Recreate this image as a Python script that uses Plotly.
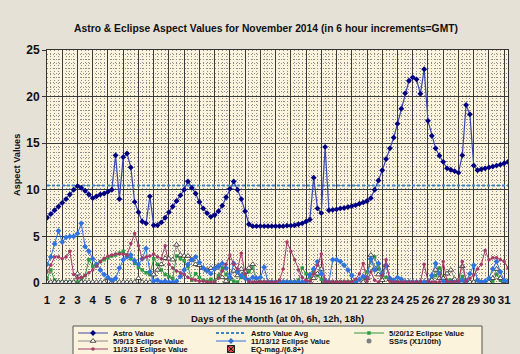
import plotly.graph_objects as go

# ---------------- data (6-hour increments: 0h, 6h, 12h, 18h) ----------------
days = list(range(1, 32))
hours = [0, 6, 12, 18]

astro_value = [
    7.0, 7.4, 7.8, 8.2,      # 1
    8.6, 9.0, 9.5, 10.0,     # 2
    10.4, 10.2, 9.9, 9.5,    # 3
    9.1, 9.3, 9.5, 9.6,      # 4
    9.8, 10.0, 13.7, 9.0,    # 5
    13.5, 13.9, 12.4, 8.7,   # 6
    7.6, 6.6, 6.4, 9.3,      # 7
    6.2, 6.2, 6.5, 7.0,      # 8
    7.6, 8.2, 8.8, 9.4,      # 9
    10.0, 10.9, 10.2, 9.6,   # 10
    8.7, 8.0, 7.5, 7.1,      # 11
    7.3, 7.7, 8.3, 9.2,      # 12
    10.1, 10.9, 10.0, 9.0,   # 13
    7.7, 6.3, 6.1, 6.1,      # 14
    6.1, 6.1, 6.1, 6.1,      # 15
    6.1, 6.1, 6.1, 6.15,     # 16
    6.15, 6.2, 6.3, 6.4,     # 17
    6.6, 6.8, 11.3, 8.0,     # 18
    7.5, 14.6, 7.8, 7.85,    # 19
    7.9, 8.0, 8.05, 8.15,    # 20
    8.25, 8.35, 8.5, 8.65,   # 21
    8.8, 9.1, 10.0, 11.0,    # 22
    12.1, 13.3, 14.45, 15.6, # 23
    17.1, 18.7, 20.35, 21.7, # 24
    22.07, 21.85, 20.3, 22.93,  # 25
    17.4, 15.8, 14.45, 13.66,   # 26
    13.0, 12.3, 12.15, 12.0,    # 27
    11.84, 13.7, 19.1, 18.1,    # 28
    12.6, 12.1, 12.2, 12.3,     # 29
    12.4, 12.5, 12.6, 12.7,     # 30
    12.85, 13.0,                # 31
]

astro_value_avg = 10.45

eclipse_5_20_12 = [
    0.5, 1.4, 0.3, 0.1,
    0.1, 0.1, 0.1, 0.1,
    0.1, 0.3, 0.8, 2.5,
    1.8, 2.0, 2.3, 2.5,
    2.7, 2.9, 3.0, 3.2,
    3.4, 3.0, 2.6, 2.1,
    1.7, 1.4, 1.1, 0.9,
    2.6, 2.0, 1.4, 0.9,
    0.7, 0.5, 2.9, 2.6,
    2.4, 1.75, 0.3, 1.0,
    0.6, 0.3, 0.2, 0.4,
    0.2, 0.8, 1.6, 0.9,
    0.4, 0.2, 0.1, 0.6,
    0.9, 1.2, 1.6, 0.3,
    0.1, 0.1, 0.1, 0.1,
    0.1, 0.1, 0.1, 0.1,
    0.1, 0.1, 0.3, 1.6,
    1.0, 0.6, 1.3, 0.8,
    0.4, 0.2, 0.1, 0.1,
    0.1, 0.1, 0.1, 0.1,
    0.1, 0.1, 0.1, 0.6,
    1.2, 2.3, 2.8, 1.5,
    0.9, 0.6, 0.4, 0.2,
    0.1, 0.1, 0.1, 0.1,
    0.1, 0.1, 0.1, 0.1,
    0.1, 0.4, 0.8, 1.6,
    0.5, 0.3, 0.3, 0.1,
    0.2, 0.7, 0.2, 0.1,
    0.1, 0.1, 0.1, 0.1,
    0.1, 0.2, 0.9, 0.3,
    0.1, 0.1,
]

eclipse_5_9_13 = [
    0.1, 0.1, 0.1, 0.1,
    0.1, 0.1, 0.1, 0.1,
    1.0, 0.1, 0.1, 0.1,
    0.1, 0.1, 0.1, 0.1,
    0.5, 0.1, 0.1, 0.1,
    0.1, 0.1, 0.1, 0.1,
    0.5, 0.1, 0.1, 0.1,
    0.9, 1.4, 2.0, 2.65,
    2.6, 2.5, 4.1, 3.0,
    2.9, 2.9, 2.5, 2.0,
    1.9, 1.6, 1.4, 1.6,
    1.6, 1.9, 0.6, 0.2,
    0.6, 1.3, 0.8, 1.5,
    1.2, 1.6, 2.0, 0.3,
    0.1, 0.1, 0.1, 0.1,
    0.1, 0.1, 0.1, 0.1,
    0.1, 0.1, 0.1, 0.1,
    0.1, 0.1, 0.5, 1.0,
    1.5, 0.2, 0.1, 0.1,
    0.1, 0.1, 0.1, 0.1,
    0.1, 0.1, 0.1, 0.1,
    0.5, 3.0, 1.6, 0.9,
    0.3, 1.9, 0.4, 0.1,
    0.1, 0.1, 0.1, 0.1,
    0.1, 0.1, 0.1, 0.1,
    0.1, 0.3, 1.4, 0.5,
    0.5, 1.0, 1.4, 0.4,
    0.3, 1.8, 0.2, 0.1,
    0.1, 0.1, 0.1, 0.1,
    0.1, 0.5, 1.5, 0.5,
    0.2, 0.1,
]

eclipse_11_13_12 = [
    2.0, 2.8, 4.2, 5.6,
    4.4, 4.9, 5.0, 5.0,
    5.3, 6.4, 3.9, 3.4,
    2.6, 2.0, 1.4, 0.9,
    0.6, 0.3, 0.5, 1.6,
    2.5, 2.8, 3.0, 2.4,
    2.0, 2.6, 3.7, 1.2,
    0.2, 0.3, 0.1, 0.2,
    0.1, 0.1, 0.2, 0.7,
    1.4, 2.0, 2.5, 2.8,
    2.2, 1.6, 1.3, 1.0,
    1.5, 1.8, 2.1, 1.6,
    0.6, 2.1, 1.2, 0.8,
    0.5, 0.3, 0.6, 0.5,
    0.6, 1.7, 0.1, 0.1,
    0.1, 0.1, 0.1, 0.1,
    0.1, 0.1, 0.1, 0.1,
    0.2, 0.9, 1.5, 2.3,
    1.0, 0.3, 0.1, 2.5,
    2.5, 2.3, 1.9, 1.4,
    0.8, 0.1, 0.4, 0.7,
    0.6, 2.6, 1.4, 2.1,
    1.0, 1.9, 0.5, 0.3,
    0.6, 0.4, 0.1, 0.1,
    0.1, 0.1, 0.1, 0.1,
    0.1, 0.8, 2.1, 1.0,
    0.2, 0.1, 0.1, 0.1,
    0.1, 0.3, 0.2, 1.0,
    1.9, 0.3, 0.1, 0.2,
    0.5, 1.5, 2.3, 1.2,
    0.3, 0.2,
]

eclipse_11_3_13 = [
    1.2, 1.9, 2.8, 2.8,
    2.6, 2.8, 3.4, 0.9,
    0.5, 0.6, 0.8, 1.1,
    1.4, 1.8, 2.3, 2.65,
    2.9, 3.0, 3.1, 3.1,
    3.1, 3.0, 4.25, 5.3,
    4.0, 2.6, 2.8, 2.9,
    3.1, 2.8, 2.6, 4.0,
    2.0, 1.6, 1.3, 1.1,
    0.9, 0.6, 0.4, 0.3,
    0.2, 0.2, 0.1, 0.1,
    0.1, 0.5, 1.3, 2.0,
    3.0, 2.0, 1.5, 3.2,
    1.0, 0.1, 0.1, 0.1,
    0.1, 0.1, 0.1, 0.1,
    0.1, 0.3, 1.5, 4.4,
    3.4, 2.5, 1.4, 0.6,
    0.3, 0.2, 1.0, 1.9,
    3.1, 0.2, 0.1, 0.1,
    0.1, 0.1, 0.1, 0.1,
    0.1, 0.4, 1.0, 2.1,
    0.2, 1.2, 0.3, 0.1,
    0.8, 2.5, 0.2, 0.1,
    0.1, 0.1, 0.1, 0.1,
    0.1, 0.1, 0.1, 2.0,
    0.2, 0.1, 0.1, 0.1,
    2.3, 0.2, 0.1, 0.1,
    0.2, 2.3, 0.2, 0.5,
    0.85, 1.5, 2.0, 3.5,
    2.5, 2.7, 2.7, 2.5,
    2.3, 1.6,
]

ss_numbers = []      # SS#s (X1/10th) - no visible points
eq_magnitude = []    # EQ-mag./(6.8+) - no visible points

x_ticks = days
x_ticktext = [str(d) for d in days]

# ---------------- x positions from day + hour ----------------
x_pos = [d + h / 24.0 for d in days for h in hours][:len(astro_value)]

TXT = "Liberation Sans, Arial, sans-serif"

fig = go.Figure()

fig.add_trace(go.Scatter(
    x=x_pos, y=eclipse_5_20_12, name="5/20/12 Eclipse Value", legend="legend", legendrank=3,
    mode="lines+markers", line=dict(color="#2E9A45", width=1),
    marker=dict(symbol="square", size=3.5, color="#2E9A45")))
fig.add_trace(go.Scatter(
    x=x_pos, y=eclipse_5_9_13, name="5/9/13 Eclipse Value", legend="legend2", legendrank=4,
    mode="lines+markers", line=dict(color="#8C8C8C", width=1),
    marker=dict(symbol="triangle-up", size=5, color="white",
                line=dict(color="#222222", width=0.8))))
fig.add_trace(go.Scatter(
    x=x_pos, y=eclipse_11_13_12, name="11/13/12 Eclipse Value", legend="legend2", legendrank=5,
    mode="lines+markers", line=dict(color="#2F73E0", width=1),
    marker=dict(symbol="diamond", size=4.5, color="#2F73E0")))
fig.add_trace(go.Scatter(
    x=x_pos, y=eclipse_11_3_13, name="11/3/13 Eclipse Value", legend="legend3", legendrank=7,
    mode="lines+markers", line=dict(color="#A33A6A", width=1),
    marker=dict(symbol="circle", size=3.5, color="#A33A6A")))
fig.add_trace(go.Scatter(
    x=[x_pos[0], x_pos[-1]], y=[astro_value_avg, astro_value_avg],
    name="Astro Value Avg", legend="legend", legendrank=2, mode="lines",
    line=dict(color="#3C86C8", width=2, dash="3px,2px")))
fig.add_trace(go.Scatter(
    x=x_pos, y=astro_value, name="Astro Value", legend="legend", legendrank=1,
    mode="lines+markers", line=dict(color="#3A48B0", width=1.2),
    marker=dict(symbol="diamond", size=4.5, color="#000080")))
fig.add_trace(go.Scatter(
    x=[None] if not ss_numbers else x_pos, y=[None] if not ss_numbers else ss_numbers,
    name="SS#s (X1/10th)", legend="legend2", legendrank=6, mode="markers",
    marker=dict(symbol="circle", size=5, color="#808080")))
fig.add_trace(go.Scatter(
    x=[None] if not eq_magnitude else x_pos, y=[None] if not eq_magnitude else eq_magnitude,
    name="EQ-mag./(6.8+)", legend="legend3", legendrank=8, mode="markers",
    marker=dict(symbol="square-x", size=7, color="#E04848",
                line=dict(color="#222222", width=1))))

# plot area in pixels: x 47..508, y 50..283
L, R, T, B = 47, 12, 50, 71
W, H = 520, 354
pw, ph = W - L - R, H - T - B

def px_x(px):
    return (px - L) / pw

def px_y(py):
    return (H - B - py) / ph

leg_common = dict(orientation="h", xanchor="left", yanchor="middle",
                  bgcolor="rgba(0,0,0,0)", borderwidth=0,
                  font=dict(family=TXT, size=7.5, color="#111111", weight="bold"),
                  entrywidth=93, entrywidthmode="pixels", itemwidth=30,
                  traceorder="normal")

fig.update_layout(
    width=W, height=H,
    margin=dict(l=L, r=R, t=T, b=B, autoexpand=False),
    paper_bgcolor="#E6E1D7",
    plot_bgcolor="#FCF3DC",
    showlegend=True,
    title=dict(text="Astro & Eclipse Aspect Values for November 2014 (in 6 hour increments=GMT)",
               x=266 / W, xanchor="center", y=1 - 28 / H, yanchor="middle",
               font=dict(family=TXT, size=10.3, color="#111111", weight="bold")),
    xaxis=dict(range=[1, 31.25], tickvals=x_ticks, ticktext=x_ticktext, tickangle=0,
               automargin=False,
               showgrid=True, gridcolor="#3A3A3A", gridwidth=1,
               minor=dict(dtick=0.25, tick0=1, showgrid=True, gridcolor="#8C8C8C",
                          griddash="1px,2px", gridwidth=1),
               showline=True, linecolor="#333333", linewidth=1, mirror=True,
               ticks="", ticklabelstandoff=6, zeroline=False,
               tickfont=dict(family=TXT, size=11.5, color="#111111", weight="bold")),
    yaxis=dict(range=[0, 25], dtick=5, tick0=0, automargin=False,
               showgrid=True, gridcolor="#3A3A3A", gridwidth=1,
               minor=dict(dtick=0.5, tick0=0, showgrid=True, gridcolor="#8C8C8C",
                          griddash="1px,2px", gridwidth=1),
               showline=True, linecolor="#333333", linewidth=1, mirror=True,
               ticks="outside", ticklen=4, tickcolor="#333333", zeroline=False,
               tickfont=dict(family=TXT, size=12, color="#111111", weight="bold")),
    legend=dict(x=px_x(73), y=px_y(333), **leg_common),
    legend2=dict(x=px_x(73), y=px_y(341), **leg_common),
    legend3=dict(x=px_x(73), y=px_y(349), **leg_common),
    shapes=[dict(type="rect", xref="paper", yref="paper",
                 x0=px_x(73), x1=px_x(482), y0=px_y(362), y1=px_y(326),
                 fillcolor="#FCF3DC", line=dict(color="#555555", width=1),
                 layer="below")],
    annotations=[
        dict(text="Days of the Month (at 0h, 6h, 12h, 18h)", xref="paper", yref="paper",
             x=px_x(277), y=px_y(318), xanchor="center", yanchor="middle", showarrow=False,
             font=dict(family=TXT, size=9.5, color="#111111", weight="bold")),
        dict(text="Aspect Values", xref="paper", yref="paper", textangle=-90,
             x=px_x(17), y=px_y(165), xanchor="center", yanchor="middle", showarrow=False,
             font=dict(family=TXT, size=9.2, color="#111111", weight="bold")),
    ],
)

fig.write_html("out.html")
